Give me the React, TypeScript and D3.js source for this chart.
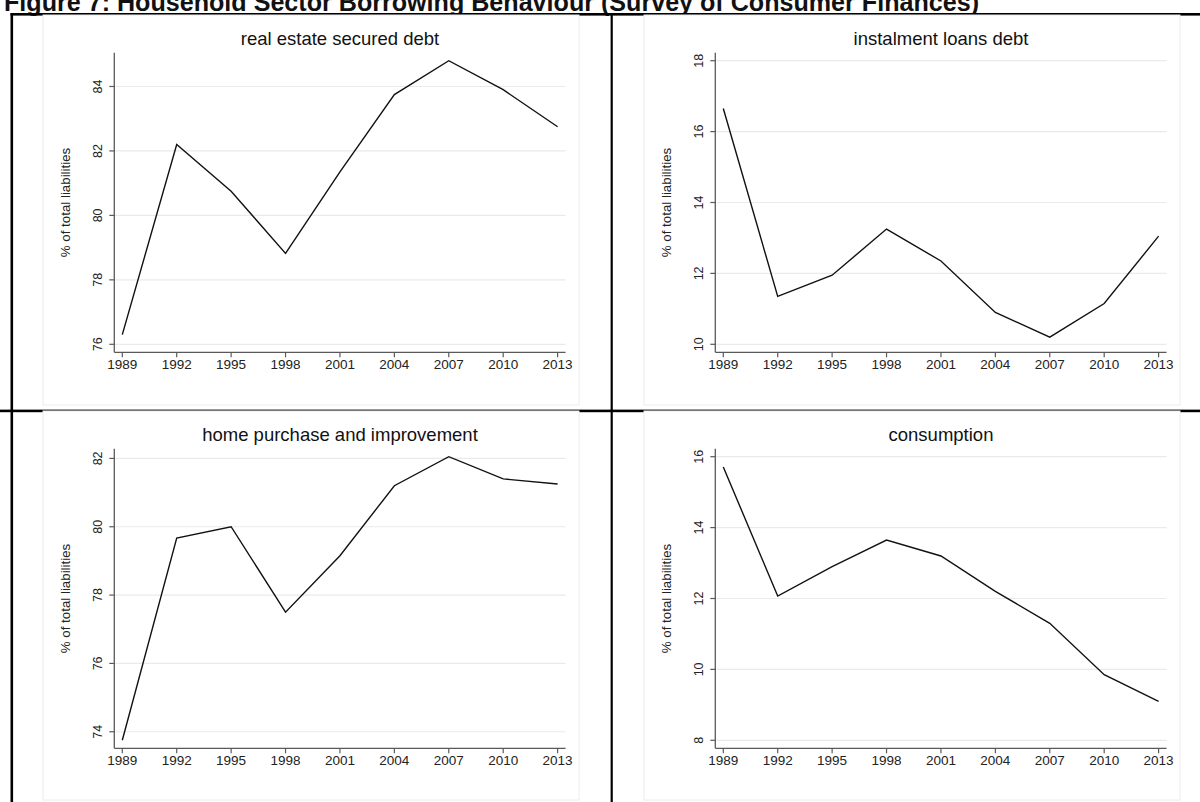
import React from "react";
import * as d3 from "d3";

const years = [1989, 1992, 1995, 1998, 2001, 2004, 2007, 2010, 2013];
const realEstate = [76.3, 82.2, 80.75, 78.82, 81.35, 83.75, 84.8, 83.9, 82.75];
const instalment = [16.65, 11.35, 11.95, 13.25, 12.35, 10.9, 10.2, 11.15, 13.05];
const homePurchase = [73.75, 79.67, 80.0, 77.5, 79.15, 81.2, 82.05, 81.4, 81.25];
const consumption = [15.71, 12.07, 12.9, 13.65, 13.2, 12.2, 11.3, 9.85, 9.1];

const ticksRealEstate = [76, 78, 80, 82, 84];
const ticksInstalment = [10, 12, 14, 16, 18];
const ticksHome = [74, 76, 78, 80, 82];
const ticksConsumption = [8, 10, 12, 14, 16];

const panelTitles = [
  "real estate secured debt",
  "instalment loans debt",
  "home purchase and improvement",
  "consumption",
];
const yTitle = "% of total liabilities";
const figureTitle =
  "Figure 7: Household Sector Borrowing Behaviour (Survey of Consumer Finances)";

const FONT = "'Liberation Sans', Arial, sans-serif";

type PanelProps = {
  x0: number;
  y0: number;
  w: number;
  h: number;
  title: string;
  values: number[];
  ticks: number[];
};

function Panel({ x0, y0, w, h, title, values, ticks }: PanelProps) {
  const yAxisX = x0 + 71.3;
  const axisTop = y0 + 37.7;
  const axisBottom = y0 + 337.3;
  const xAxisRight = x0 + 522.6;
  const pad = 8;
  const x = d3
    .scaleLinear()
    .domain([years[0], years[years.length - 1]])
    .range([yAxisX + pad, xAxisRight - pad]);
  const lo = Math.min(d3.min(values) as number, d3.min(ticks) as number);
  const hi = Math.max(d3.max(values) as number, d3.max(ticks) as number);
  const y = d3.scaleLinear().domain([lo, hi]).range([axisBottom - pad, axisTop + pad]);
  const line = d3
    .line<number>()
    .x((_, i) => x(years[i]))
    .y((v) => y(v));
  const axisColor = "#5a5a5a";
  const midY = (axisTop + axisBottom) / 2;
  return (
    <g>
      <rect x={x0} y={y0} width={w} height={h} fill="#fff" stroke="#ececec" strokeWidth={1} />
      <text
        x={x0 + 297}
        y={y0 + 30}
        textAnchor="middle"
        fontFamily={FONT}
        fontSize={18.5}
        fill="#111"
      >
        {title}
      </text>
      {ticks.map((t) => (
        <line
          key={"g" + t}
          x1={yAxisX}
          x2={xAxisRight}
          y1={y(t)}
          y2={y(t)}
          stroke="#eaeaea"
          strokeWidth={1.2}
        />
      ))}
      <line x1={yAxisX} x2={yAxisX} y1={axisTop} y2={axisBottom} stroke={axisColor} strokeWidth={1.3} />
      <line x1={yAxisX} x2={xAxisRight} y1={axisBottom} y2={axisBottom} stroke={axisColor} strokeWidth={1.3} />
      {ticks.map((t) => (
        <g key={"t" + t}>
          <line x1={yAxisX - 5} x2={yAxisX} y1={y(t)} y2={y(t)} stroke={axisColor} strokeWidth={1.2} />
          <text
            transform={`translate(${yAxisX - 12.5},${y(t)}) rotate(-90)`}
            textAnchor="middle"
            fontFamily={FONT}
            fontSize={12.5}
            fill="#222"
          >
            {t}
          </text>
        </g>
      ))}
      {years.map((yr) => (
        <g key={"x" + yr}>
          <line x1={x(yr)} x2={x(yr)} y1={axisBottom} y2={axisBottom + 5} stroke={axisColor} strokeWidth={1.2} />
          <text
            x={x(yr)}
            y={axisBottom + 17}
            textAnchor="middle"
            fontFamily={FONT}
            fontSize={13.5}
            fill="#222"
          >
            {yr}
          </text>
        </g>
      ))}
      <text
        transform={`translate(${x0 + 27},${midY}) rotate(-90)`}
        textAnchor="middle"
        fontFamily={FONT}
        fontSize={13.3}
        fill="#222"
      >
        {yTitle}
      </text>
      <path d={line(values) || ""} fill="none" stroke="#111" strokeWidth={1.4} strokeLinejoin="miter" />
    </g>
  );
}

export default function App() {
  const W = 1200;
  const H = 802;
  const panels = [
    { x0: 43, y0: 15, h: 390, values: realEstate, ticks: ticksRealEstate },
    { x0: 644, y0: 15, h: 390, values: instalment, ticks: ticksInstalment },
    { x0: 43, y0: 411, h: 389, values: homePurchase, ticks: ticksHome },
    { x0: 644, y0: 411, h: 389, values: consumption, ticks: ticksConsumption },
  ];
  return (
    <svg
      width={W}
      height={H}
      style={{ position: "absolute", left: 0, top: 0, background: "#fff" }}
    >
      <rect x={0} y={0} width={W} height={H} fill="#fff" />
      <text
        x={4}
        y={11}
        fontFamily={FONT}
        fontWeight="bold"
        fontSize={25}
        textLength={975}
        lengthAdjust="spacingAndGlyphs"
        fill="#111"
      >
        {figureTitle}
      </text>
      {/* table lines */}
      <rect x={10.5} y={13} width={W - 10.5} height={2.6} fill="#000" />
      <rect x={10.5} y={13} width={2.6} height={H - 13} fill="#000" />
      <rect x={610.6} y={13} width={2.2} height={H - 13} fill="#000" />
      <rect x={0} y={409.6} width={W} height={2.6} fill="#000" />
      {panels.map((p, i) => (
        <Panel
          key={i}
          x0={p.x0}
          y0={p.y0}
          w={536}
          h={p.h}
          title={panelTitles[i]}
          values={p.values}
          ticks={p.ticks}
        />
      ))}
    </svg>
  );
}
